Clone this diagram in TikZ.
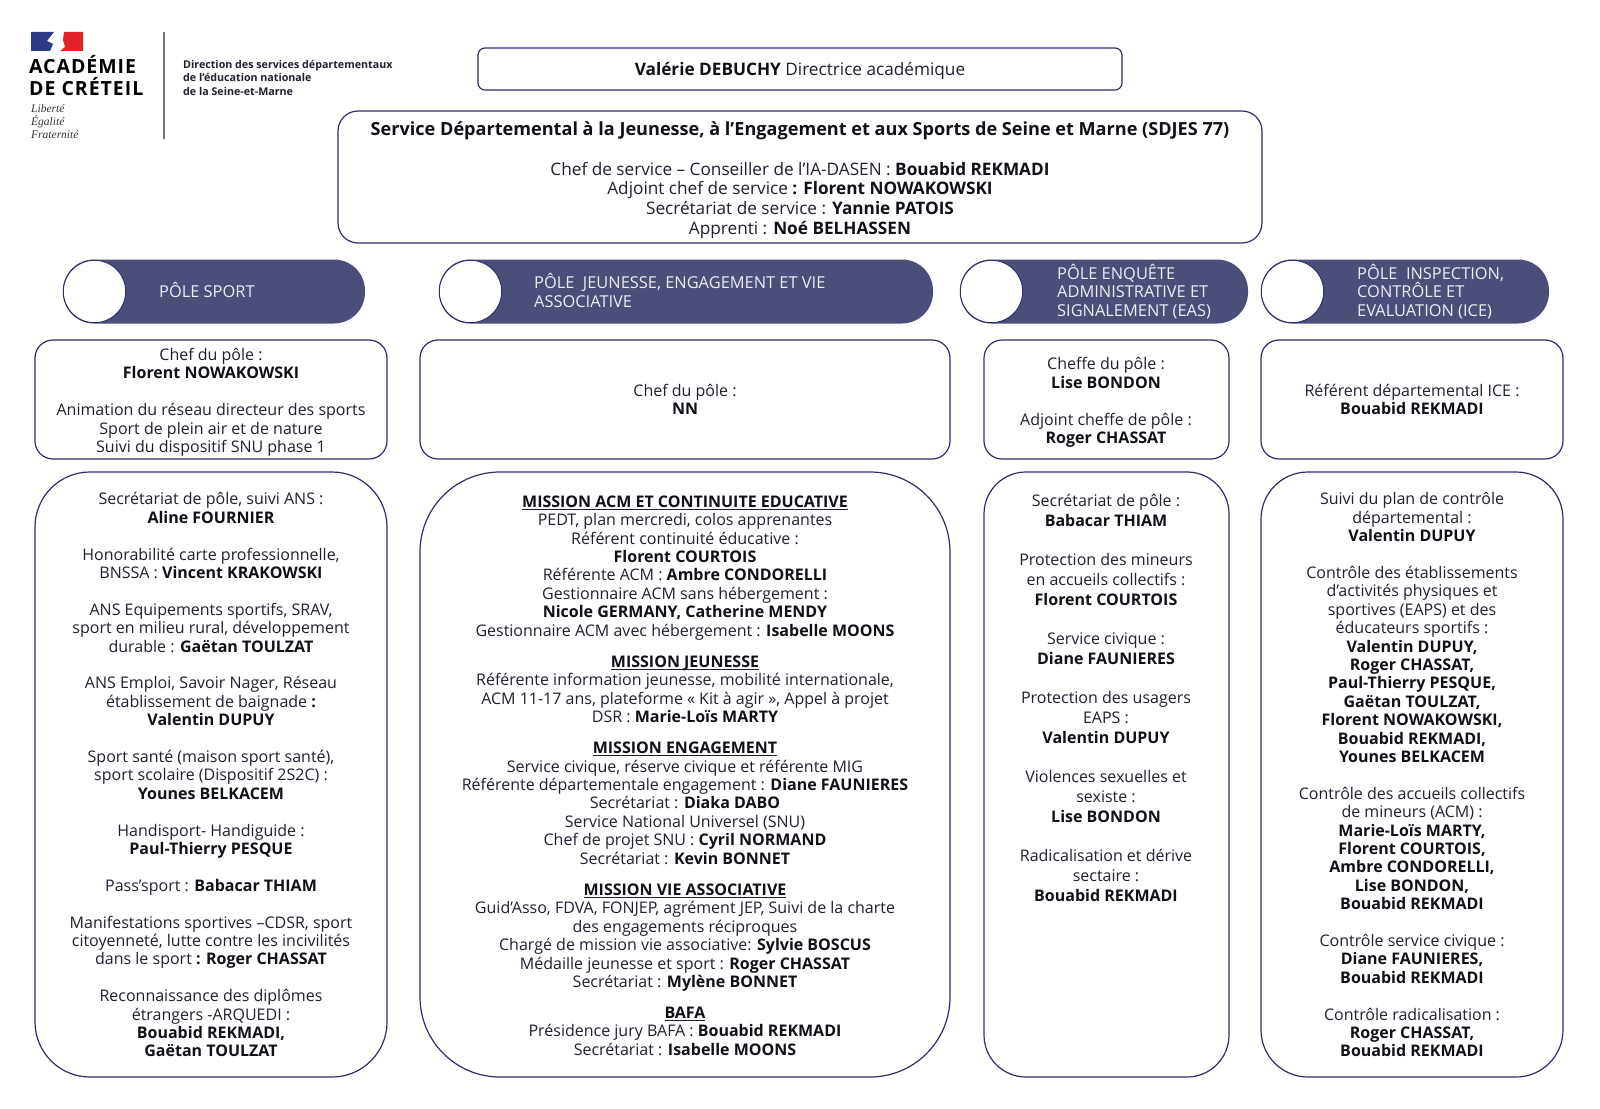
\documentclass[tikz,border=0pt]{standalone}
\usepackage{fontspec}
\setmainfont{Open Sans}
\newfontfamily\devisefont{Liberation Serif}
\definecolor{navy}{HTML}{2E2E6E}
\definecolor{pillfill}{HTML}{4C4E7A}
\definecolor{txt}{HTML}{1F2030}
\definecolor{nomc}{HTML}{101018}
\newcommand\nom[1]{\textbf{\textcolor{nomc}{#1}}}
\newcommand\sk{\\[\baselineskip]}
\newcommand\mi[1]{\underline{\raisebox{0pt}[\height][0pt]{\nom{#1}}}}
\tikzset{
  x=1pt,y=-1pt,
  panel/.style={draw=navy,line width=1.2pt,fill=white,inner sep=0pt,rounded corners=#1},
  panel/.default=18pt,
  pillbar/.style={fill=pillfill,inner sep=0pt,rounded corners=31pt,minimum height=64pt},
  pillhole/.style={circle,draw=navy,line width=1pt,fill=white,inner sep=0pt,minimum size=62.5pt},
  pilltext/.style={anchor=north west,inner sep=0pt,align=left,text=white!90!pillfill,
    font=\fontsize{16.4}{18.3}\selectfont},
  lines/.style={anchor=north,inner sep=0pt,align=center,text=txt,
    font=\fontsize{16}{18.4}\selectfont},
  linesbig/.style={lines,font=\fontsize{16}{19.75}\selectfont},
  linestop/.style={lines,font=\fontsize{17.2}{19.6}\selectfont},
  logoname/.style={anchor=base west,inner sep=0pt,text=black,
    font=\fontsize{19.5}{20}\selectfont\bfseries\addfontfeature{LetterSpace=5}},
}
\begin{document}
\begin{tikzpicture}
\path[use as bounding box] (0,0) rectangle (1600,1108);

% Logo
\fill[fill={rgb,255:red,42;green,58;blue,132}] (31,32) -- (54,32) -- (50,37) -- (47,41) -- (53,44) -- (50,51) -- (31,51) -- cycle;
\fill[fill={rgb,255:red,225;green,35;blue,40}] (64,32) -- (83,32) -- (83,51) -- (60,51) -- (65,47) -- (63,40) -- cycle;
\node[logoname] (acad) at (29,74) {ACADÉMIE};
\node[logoname] (cret) at (29,95) {DE CRÉTEIL};
\node[anchor=north west,inner sep=0pt,align=left,font=\devisefont\itshape\fontsize{11.5}{13.3}\selectfont,text=black!80] (devise) at (31,104) {Liberté\\Égalité\\Fraternité};
\draw[line width=1.4pt,draw=black!55] (164,32) -- (164,139);
\node[anchor=north west,inner sep=0pt,align=left,font=\fontsize{10.7}{13.4}\selectfont\bfseries,text=txt] (dsden) at (183,60) {Direction des services départementaux\\de l’éducation nationale\\de la Seine-et-Marne};

% Top boxes
\node[panel=7pt,minimum width=644pt,minimum height=42pt] (dir) at (800,69) {};
\node[linestop,anchor=center] (dirt) at (800,71) {\nom{Valérie DEBUCHY} Directrice académique};
\node[panel=20pt,minimum width=924pt,minimum height=132pt] (sdjes) at (800,177) {};
\node[lines,font=\fontsize{18.1}{20}\selectfont\bfseries] (sdjest) at (800,121) {\textcolor{nomc}{Service Départemental à la Jeunesse, à l’Engagement et aux Sports de Seine et Marne (SDJES 77)}};
\node[linestop] (sdjesl) at (800,162) {Chef de service – Conseiller de l’IA-DASEN : \nom{Bouabid REKMADI}\\
Adjoint chef de service \nom{: Florent NOWAKOWSKI}\\
Secrétariat de service : \nom{Yannie PATOIS}\\
Apprenti : \nom{Noé BELHASSEN}};

% Pills
\node[pillbar,minimum width=302pt] (p1) at (214,291.5) {};
\node[pillhole] (c1) at (94.5,291.5) {};
\node[pilltext] (t1) at (159,282) {PÔLE SPORT};
\node[pillbar,minimum width=494pt] (p2) at (686,291.5) {};
\node[pillhole] (c2) at (470.5,291.5) {};
\node[pilltext] (t2) at (534,273.5) {PÔLE\ \ JEUNESSE, ENGAGEMENT ET VIE\\ASSOCIATIVE};
\node[pillbar,minimum width=288pt] (p3) at (1104,291.5) {};
\node[pillhole] (c3) at (991.5,291.5) {};
\node[pilltext] (t3) at (1057,264) {PÔLE ENQUÊTE\\ADMINISTRATIVE ET\\SIGNALEMENT (EAS)};
\node[pillbar,minimum width=288pt] (p4) at (1405,291.5) {};
\node[pillhole] (c4) at (1292.5,291.5) {};
\node[pilltext] (t4) at (1357,264) {PÔLE\ \ INSPECTION,\\CONTRÔLE ET\\EVALUATION (ICE)};

% Head boxes
\node[panel,minimum width=352pt,minimum height=119pt] (h1) at (211,399.5) {};
\node[lines] (ht1) at (211,348) {Chef du pôle :\\\nom{Florent NOWAKOWSKI}\sk
Animation du réseau directeur des sports\\Sport de plein air et de nature\\Suivi du dispositif SNU phase 1};
\node[panel,minimum width=530pt,minimum height=119pt] (h2) at (685,399.5) {};
\node[lines] (ht2) at (685,384) {Chef du pôle :\\\nom{NN}};
\node[panel,minimum width=245pt,minimum height=119pt] (h3) at (1106.5,399.5) {};
\node[lines] (ht3) at (1106,357.5) {Cheffe du pôle :\\\nom{Lise BONDON}\sk
Adjoint cheffe de pôle :\\\nom{Roger CHASSAT}};
\node[panel,minimum width=302pt,minimum height=119pt] (h4) at (1412,399.5) {};
\node[lines] (ht4) at (1412,384) {Référent départemental ICE :\\\nom{Bouabid REKMADI}};

% Body boxes
\node[panel=55pt,minimum width=352pt,minimum height=605pt] (b1) at (211,774.5) {};
\node[lines] (bt1) at (211,492.5) {Secrétariat de pôle, suivi ANS :\\\nom{Aline FOURNIER}\sk
Honorabilité carte professionnelle,\\BNSSA : \nom{Vincent KRAKOWSKI}\sk
ANS Equipements sportifs, SRAV,\\sport en milieu rural, développement\\durable :  \nom{Gaëtan TOULZAT}\sk
ANS Emploi, Savoir Nager, Réseau\\établissement de baignade \nom{:}\\\nom{Valentin DUPUY}\sk
Sport santé (maison sport santé),\\sport scolaire (Dispositif 2S2C) :\\\nom{Younes BELKACEM}\sk
Handisport- Handiguide :\\\nom{Paul-Thierry PESQUE}\sk
Pass’sport : \nom{Babacar THIAM}\sk
Manifestations sportives –CDSR, sport\\citoyenneté, lutte contre les incivilités\\dans le sport \nom{: Roger CHASSAT}\sk
Reconnaissance des diplômes\\étrangers -ARQUEDI :\\\nom{Bouabid REKMADI,}\\\nom{Gaëtan TOULZAT}};

\node[panel=80pt,minimum width=530pt,minimum height=605pt] (b2) at (685,774.5) {};
\node[lines] (bt2) at (685,495.5) {\mi{MISSION ACM ET CONTINUITE EDUCATIVE}\\
PEDT, plan mercredi, colos apprenantes\\
Référent continuité éducative :\\
\nom{Florent COURTOIS}\\
Référente ACM : \nom{Ambre CONDORELLI}\\
Gestionnaire ACM sans hébergement :\\
\nom{Nicole GERMANY, Catherine MENDY}\\
Gestionnaire ACM avec hébergement : \nom{Isabelle MOONS}\\[13pt]
\mi{MISSION JEUNESSE}\\
Référente information jeunesse, mobilité internationale,\\
ACM 11-17 ans, plateforme « Kit à agir », Appel à projet\\
DSR : \nom{Marie-Loïs MARTY}\\[12.5pt]
\mi{MISSION ENGAGEMENT}\\
Service civique, réserve civique et référente MIG\\
Référente départementale engagement : \nom{Diane FAUNIERES}\\
Secrétariat : \nom{Diaka DABO}\\
Service National Universel (SNU)\\
Chef de projet SNU : \nom{Cyril NORMAND}\\
Secrétariat : \nom{Kevin BONNET}\\[13pt]
\mi{MISSION VIE ASSOCIATIVE}\\
Guid’Asso, FDVA, FONJEP, agrément JEP, Suivi de la charte\\
des engagements réciproques\\
Chargé de mission vie associative: \nom{Sylvie BOSCUS}\\
Médaille jeunesse et sport : \nom{Roger CHASSAT}\\
Secrétariat : \nom{Mylène BONNET}\\[12.5pt]
\mi{BAFA}\\
Présidence jury BAFA : \nom{Bouabid REKMADI}\\
Secrétariat : \nom{Isabelle MOONS}};

\node[panel=42pt,minimum width=245pt,minimum height=605pt] (b3) at (1106.5,774.5) {};
\node[linesbig] (bt3) at (1106,494) {Secrétariat de pôle :\\\nom{Babacar THIAM}\sk
Protection des mineurs\\en accueils collectifs :\\\nom{Florent COURTOIS}\sk
Service civique :\\\nom{Diane FAUNIERES}\sk
Protection des usagers\\EAPS :\\\nom{Valentin DUPUY}\sk
Violences sexuelles et\\sexiste :\\\nom{Lise BONDON}\sk
Radicalisation et dérive\\sectaire :\\\nom{Bouabid REKMADI}};

\node[panel=47pt,minimum width=302pt,minimum height=605pt] (b4) at (1412,774.5) {};
\node[lines] (bt4) at (1412,492.5) {Suivi du plan de contrôle\\départemental :\\\nom{Valentin DUPUY}\sk
Contrôle des établissements\\d’activités physiques et\\sportives (EAPS) et des\\éducateurs sportifs :\\\nom{Valentin DUPUY,}\\\nom{Roger CHASSAT,}\\\nom{Paul-Thierry PESQUE,}\\\nom{Gaëtan TOULZAT,}\\\nom{Florent NOWAKOWSKI,}\\\nom{Bouabid REKMADI,}\\\nom{Younes BELKACEM}\sk
Contrôle des accueils collectifs\\de mineurs (ACM) :\\\nom{Marie-Loïs MARTY,}\\\nom{Florent COURTOIS,}\\\nom{Ambre CONDORELLI,}\\\nom{Lise BONDON,}\\\nom{Bouabid REKMADI}\sk
Contrôle service civique :\\\nom{Diane FAUNIERES,}\\\nom{Bouabid REKMADI}\sk
Contrôle radicalisation :\\\nom{Roger CHASSAT,}\\\nom{Bouabid REKMADI}};
\end{tikzpicture}
\end{document}
